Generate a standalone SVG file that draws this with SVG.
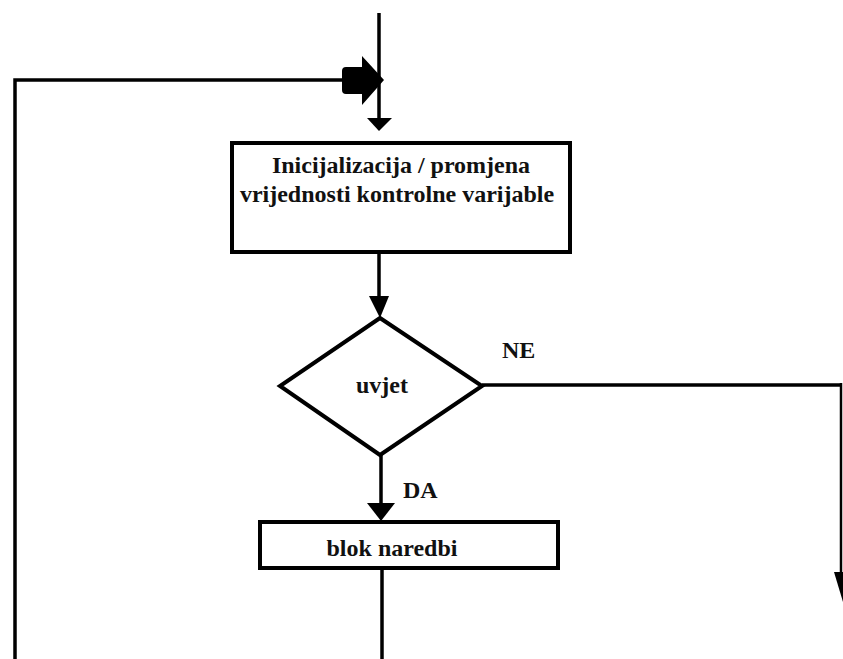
<svg xmlns="http://www.w3.org/2000/svg" width="843" height="659" viewBox="0 0 843 659">
<style>
.ln{fill:none;stroke:#000;stroke-width:3.5}
.bx{fill:#fff;stroke:#000;stroke-width:4}
.ah{fill:#000;stroke:none}
.t{font-family:"Liberation Serif","Times New Roman",serif;font-weight:bold;font-size:24px;fill:#111}
</style>
<rect width="843" height="659" fill="#fff"/>
<g id="connectors">
<path class="ln" d="M379,13 V120"/>
<path class="ln" d="M15,659 V80 H345"/>
<path class="ah" d="M342,71 Q342,67 346,67 L362,67 L362,56 L384,80 L362,105 L362,94 L346,94 Q342,94 342,90 Z"/>
<path class="ah" d="M367,118 L392,118 L379,131 Z"/>
<path class="ln" d="M379,252 V298"/>
<path class="ah" d="M369,296 L389,296 L380,318 Z"/>
<path class="ln" d="M482,385 H841"/>
<path class="ln" d="M841,383 V580" style="stroke-width:2.5"/>
<path class="ah" d="M834,572 L843,572 L843,602 Z"/>
<path class="ln" d="M381,455 V505"/>
<path class="ah" d="M367,503 L395,503 L381,521 Z"/>
<path class="ln" d="M382,568 V659"/>
<text class="t" x="502" y="358">NE</text>
<text class="t" x="403" y="498">DA</text>
</g>
<g id="init">
<rect class="bx" x="232" y="143" width="338" height="109"/>
<text class="t" x="401" y="173" text-anchor="middle">Inicijalizacija / promjena</text>
<text class="t" x="397" y="202" text-anchor="middle">vrijednosti kontrolne varijable</text>
</g>
<g id="uvjet">
<path class="bx" d="M380,318 L482,386 L380,455 L280,386 Z"/>
<text class="t" x="382" y="393" text-anchor="middle">uvjet</text>
</g>
<g id="blok">
<rect class="bx" x="260" y="522" width="298" height="46"/>
<text class="t" x="392" y="556" text-anchor="middle">blok naredbi</text>
</g>
</svg>
